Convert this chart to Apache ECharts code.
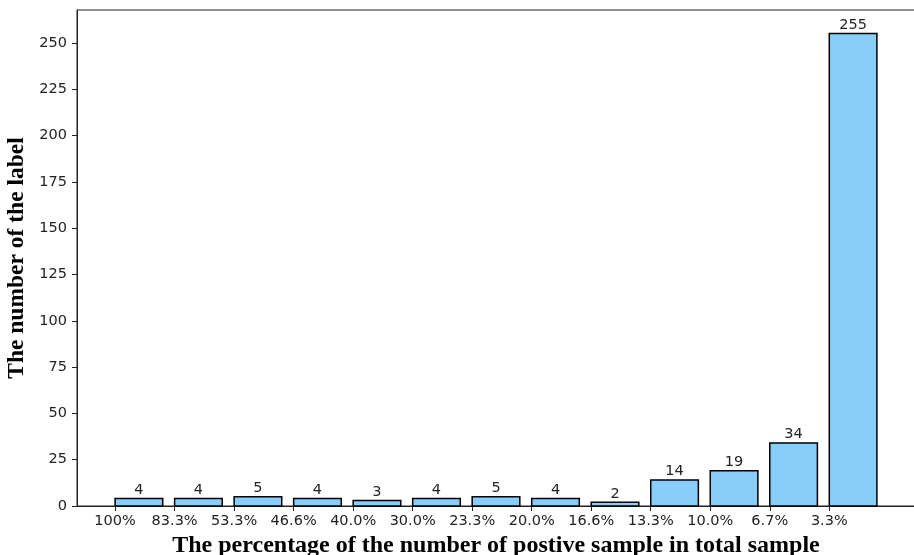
<!DOCTYPE html>
<html><head><meta charset="utf-8">
<script src="https://cdn.jsdelivr.net/npm/echarts@6/dist/echarts.min.js"></script>
<style>html,body{margin:0;padding:0;background:#fff}#c{width:914px;height:555px}</style>
</head><body><div id="c"></div>
<script>
const categories = ['100%','83.3%','53.3%','46.6%','40.0%','30.0%','23.3%','20.0%','16.6%','13.3%','10.0%','6.7%','3.3%'];
const counts = [4,4,5,4,3,4,5,4,2,14,19,34,255];
const yTicks = [0,25,50,75,100,125,150,175,200,225,250];

const chart = echarts.init(document.getElementById('c'));
const data = counts.map((v,i)=>[i,v]);
const barW = 0.8;
chart.setOption({
  animation:false,
  grid:{left:77, top:10, width:838, bottom:49, containLabel:false, outerBoundsMode:'none', show:true, borderColor:'#222', borderWidth:1, backgroundColor:'transparent'},
  xAxis:{type:'value', min:-0.64, max:13.44,
    axisLine:{show:true, onZero:false, lineStyle:{color:'#222'}},
    axisTick:{show:true, customValues:categories.map((c,i)=>i), length:5, lineStyle:{color:'#222'}},
    axisLabel:{customValues:categories.map((c,i)=>i), formatter:v=>categories[Math.round(v)]||'', fontFamily:'DejaVu Sans', fontSize:14.5, color:'#222', margin:8},
    splitLine:{show:false},
    name:'The percentage of the number of postive sample in total sample', nameLocation:'middle', nameGap:25,
    nameTextStyle:{fontFamily:'Liberation Serif', fontWeight:'bold', fontSize:24, color:'#000'}
  },
  yAxis:{type:'value', min:0, max:267.75,
    axisLine:{show:true, onZero:false, lineStyle:{color:'#222'}},
    axisTick:{show:true, customValues:yTicks, length:5, lineStyle:{color:'#222'}},
    axisLabel:{customValues:yTicks, fontFamily:'DejaVu Sans', fontSize:14.5, color:'#222', margin:10},
    splitLine:{show:false},
    name:'The number of the label', nameLocation:'middle', nameGap:48,
    nameTextStyle:{fontFamily:'Liberation Serif', fontWeight:'bold', fontSize:23.5, color:'#000'}
  },
  series:[{type:'custom', data:data, encode:{x:0,y:1},
    renderItem:function(params, api){
      const x0 = api.value(0), v = api.value(1);
      const p0 = api.coord([x0,0]);
      const p1 = api.coord([x0+barW, v]);
      return {type:'group', children:[
        {type:'rect', shape:{x:p0[0], y:p1[1], width:p1[0]-p0[0], height:p0[1]-p1[1]},
         style:{fill:'#87CEFA', stroke:'#000', lineWidth:1.5}},
        {type:'text', x:(p0[0]+p1[0])/2, y:p1[1]-1,
         style:{text:String(v), align:'center', verticalAlign:'bottom', fontFamily:'DejaVu Sans', fontSize:14.5, fill:'#222'}}
      ]};
    }
  }]
});
</script></body></html>
